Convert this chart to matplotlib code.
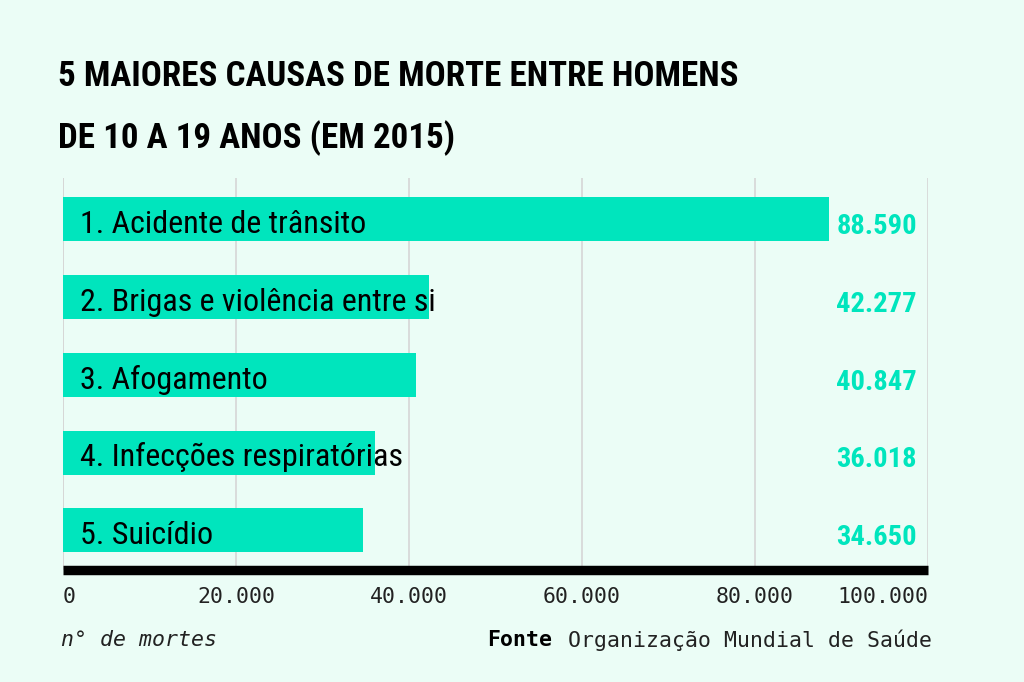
import matplotlib
matplotlib.use("Agg")
import matplotlib.pyplot as plt
from matplotlib import font_manager
from matplotlib.transforms import blended_transform_factory

# dados
causas = ["1. Acidente de trânsito",
          "2. Brigas e violência entre si",
          "3. Afogamento",
          "4. Infecções respiratórias",
          "5. Suicídio"]
mortes = [88590, 42277, 40847, 36018, 34650]
ticks = [0, 20000, 40000, 60000, 80000, 100000]
tick_labels = ["0", "20.000", "40.000", "60.000", "80.000", "100.000"]

titulo = ["5 MAIORES CAUSAS DE MORTE ENTRE HOMENS",
          "DE 10 A 19 ANOS (EM 2015)"]

fundo = "#ebfdf6"
verde = "#00e5bd"

nomes = {f.name for f in font_manager.fontManager.ttflist}


def escolher(*cands):
    for c in cands:
        if c in nomes:
            return c
    return "DejaVu Sans"


cond = escolher("Roboto Condensed", "Liberation Sans Narrow", "DejaVu Sans Condensed", "DejaVu Sans")
mono = escolher("DejaVu Sans Mono", "Liberation Mono")

def fmt(v):
    return f"{v:,}".replace(",", ".")

fig = plt.figure(figsize=(10.24, 6.82), dpi=100, facecolor=fundo)
ax = fig.add_axes([63 / 1024, 1 - 570 / 682, 865 / 1024, 392 / 682])
ax.set_facecolor(fundo)

y = list(range(len(causas)))
ax.barh(y, mortes, height=0.565, color=verde, zorder=2)

ax.set_xlim(0, 100000)
ax.set_ylim(len(causas) - 0.49, -0.53)

ax.set_xticks(ticks)
ax.set_xticklabels(tick_labels, family=mono, fontsize=15.5, color="#222222")
labs = ax.get_xticklabels()
labs[0].set_horizontalalignment("left")
labs[-1].set_horizontalalignment("right")
ax.tick_params(axis="x", length=0, pad=12)
ax.set_yticks([])
ax.grid(axis="x", color="#d6d6d6", linewidth=1.2, zorder=0)
ax.axvline(0, color="#d6d6d6", linewidth=1.2, zorder=0)

for s in ["top", "left", "right"]:
    ax.spines[s].set_visible(False)
ax.spines["bottom"].set_linewidth(6.8)
ax.spines["bottom"].set_color("black")
ax.spines["bottom"].set_capstyle("butt")
ax.spines["bottom"].set_zorder(3)

trans = blended_transform_factory(ax.transAxes, ax.transData)
for i, (c, v) in enumerate(zip(causas, mortes)):
    ax.annotate(c, (0, i), xytext=(12.5, -10), textcoords="offset points",
                va="baseline", ha="left", fontsize=23, family=cond,
                color="black", zorder=4)
    ax.text(0.987, i + 0.19, fmt(v), transform=trans, va="baseline", ha="right",
            fontsize=20.5, family=cond, fontweight="bold", color=verde)

fig.text(58 / 1024, 1 - 86 / 682, titulo[0], family=cond, fontweight="bold",
         fontsize=25.2, va="baseline", ha="left")
fig.text(58 / 1024, 1 - 148 / 682, titulo[1], family=cond, fontweight="bold",
         fontsize=25.2, va="baseline", ha="left")

fig.text(61 / 1024, 1 - 640 / 682, "n° de mortes", family=mono, style="italic",
         fontsize=15.5, va="center", ha="left", color="#222222")
fig.text(932 / 1024, 1 - 640 / 682, "Organização Mundial de Saúde", family=mono,
         fontsize=15.5, va="center", ha="right", color="#222222")
fig.text(487 / 1024, 1 - 640 / 682, "Fonte", family=mono, fontweight="bold",
         fontsize=15.5, va="center", ha="left", color="black")

fig.savefig("out.png", dpi=100, facecolor=fundo)
